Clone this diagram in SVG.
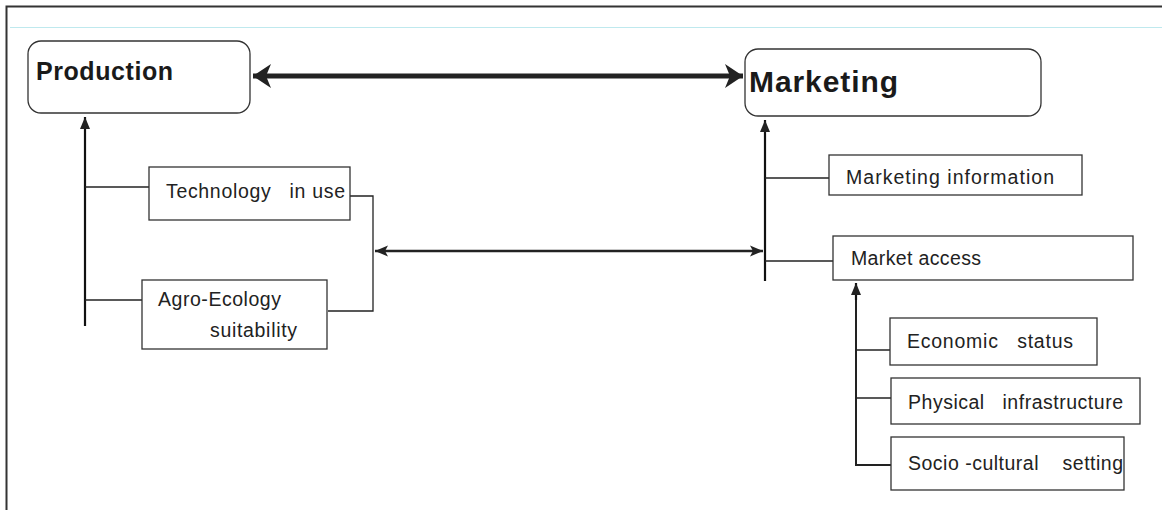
<svg xmlns="http://www.w3.org/2000/svg" width="1162" height="514" viewBox="0 0 1162 514">
<style>
.box{fill:#fff;stroke:#333;stroke-width:1.3}
.t{font-family:"Liberation Sans",Arial,sans-serif;font-size:19.5px;fill:#222}
.h{font-family:"Liberation Sans",Arial,sans-serif;font-weight:bold;fill:#1a1a1a}
.ln{fill:none;stroke:#222;stroke-width:1.3}
.lb{fill:none;stroke:#111;stroke-width:2.2}
</style>
<defs>
<marker id="big" markerUnits="userSpaceOnUse" markerWidth="20" markerHeight="26" refX="18" refY="13" orient="auto-start-reverse" viewBox="0 0 20 26">
<path d="M18,13 L0,1 L5,13 L0,25 Z" fill="#222"/>
</marker>
<marker id="sm" markerUnits="userSpaceOnUse" markerWidth="14" markerHeight="12" refX="13" refY="6" orient="auto-start-reverse" viewBox="0 0 14 12">
<path d="M13,6 L0,0.5 L3,6 L0,11.5 Z" fill="#222"/>
</marker>
<marker id="up" markerUnits="userSpaceOnUse" markerWidth="12" markerHeight="14" refX="6" refY="1" orient="0" viewBox="0 0 12 14">
<path d="M6,1 L11,13 L1,13 Z" fill="#222"/>
</marker>
</defs>
<rect width="1162" height="514" fill="#fff"/>
<g id="frame">
<path d="M6.5,510 V6.5 H1162" fill="none" stroke="#333" stroke-width="2"/>
<line x1="10" y1="27.5" x2="1162" y2="27.5" stroke="#bfe9ee" stroke-width="1"/>
</g>
<g id="connectors">
<line class="ln" x1="253" y1="76" x2="743" y2="76" marker-start="url(#big)" marker-end="url(#big)" style="stroke-width:5"/>
<line class="lb" x1="85" y1="326" x2="85" y2="117" marker-end="url(#up)"/>
<line class="ln" x1="85" y1="187" x2="149" y2="187"/>
<line class="ln" x1="85" y1="300" x2="142" y2="300"/>
<path class="ln" d="M350,196 H373 V311 H328"/>
<line class="ln" x1="375" y1="251" x2="763" y2="251" marker-start="url(#sm)" marker-end="url(#sm)" style="stroke-width:2.6"/>
<line class="lb" x1="765" y1="281" x2="765" y2="120" marker-end="url(#up)"/>
<line class="ln" x1="765" y1="178" x2="829" y2="178"/>
<line class="ln" x1="765" y1="261" x2="833" y2="261"/>
<path class="ln" d="M856,283 V465 H891" style="stroke-width:2"/>
<line class="lb" x1="856" y1="300" x2="856" y2="283" marker-end="url(#up)"/>
<line class="ln" x1="856" y1="350" x2="890" y2="350"/>
<line class="ln" x1="856" y1="398" x2="891" y2="398"/>
</g>
<g id="production">
<rect class="box" x="28" y="41" width="222" height="72" rx="13"/>
<text class="h" x="36" y="80" font-size="25" textLength="137">Production</text>
</g>
<g id="marketing">
<rect class="box" x="745" y="49" width="296" height="67" rx="13"/>
<text class="h" x="749" y="92" font-size="30" textLength="149">Marketing</text>
</g>
<g id="technology">
<rect class="box" x="149" y="167" width="201" height="53"/>
<text class="t" x="166" y="198" xml:space="preserve" textLength="179">Technology   in use</text>
</g>
<g id="agro">
<rect class="box" x="142" y="280" width="185" height="69"/>
<text class="t" x="158" y="306" textLength="123">Agro-Ecology</text>
<text class="t" x="210" y="337" textLength="87">suitability</text>
</g>
<g id="marketing-info">
<rect class="box" x="829" y="155" width="253" height="40"/>
<text class="t" x="846" y="184" textLength="208">Marketing information</text>
</g>
<g id="market-access">
<rect class="box" x="833" y="236" width="300" height="44"/>
<text class="t" x="851" y="265" textLength="130">Market access</text>
</g>
<g id="economic">
<rect class="box" x="890" y="318" width="207" height="47"/>
<text class="t" x="907" y="348" xml:space="preserve" textLength="166">Economic   status</text>
</g>
<g id="physical">
<rect class="box" x="891" y="378" width="249" height="46"/>
<text class="t" x="908" y="409" xml:space="preserve" textLength="215">Physical   infrastructure</text>
</g>
<g id="socio">
<rect class="box" x="891" y="437" width="233" height="53"/>
<text class="t" x="908" y="470" xml:space="preserve" textLength="215">Socio -cultural    setting</text>
</g>
</svg>
